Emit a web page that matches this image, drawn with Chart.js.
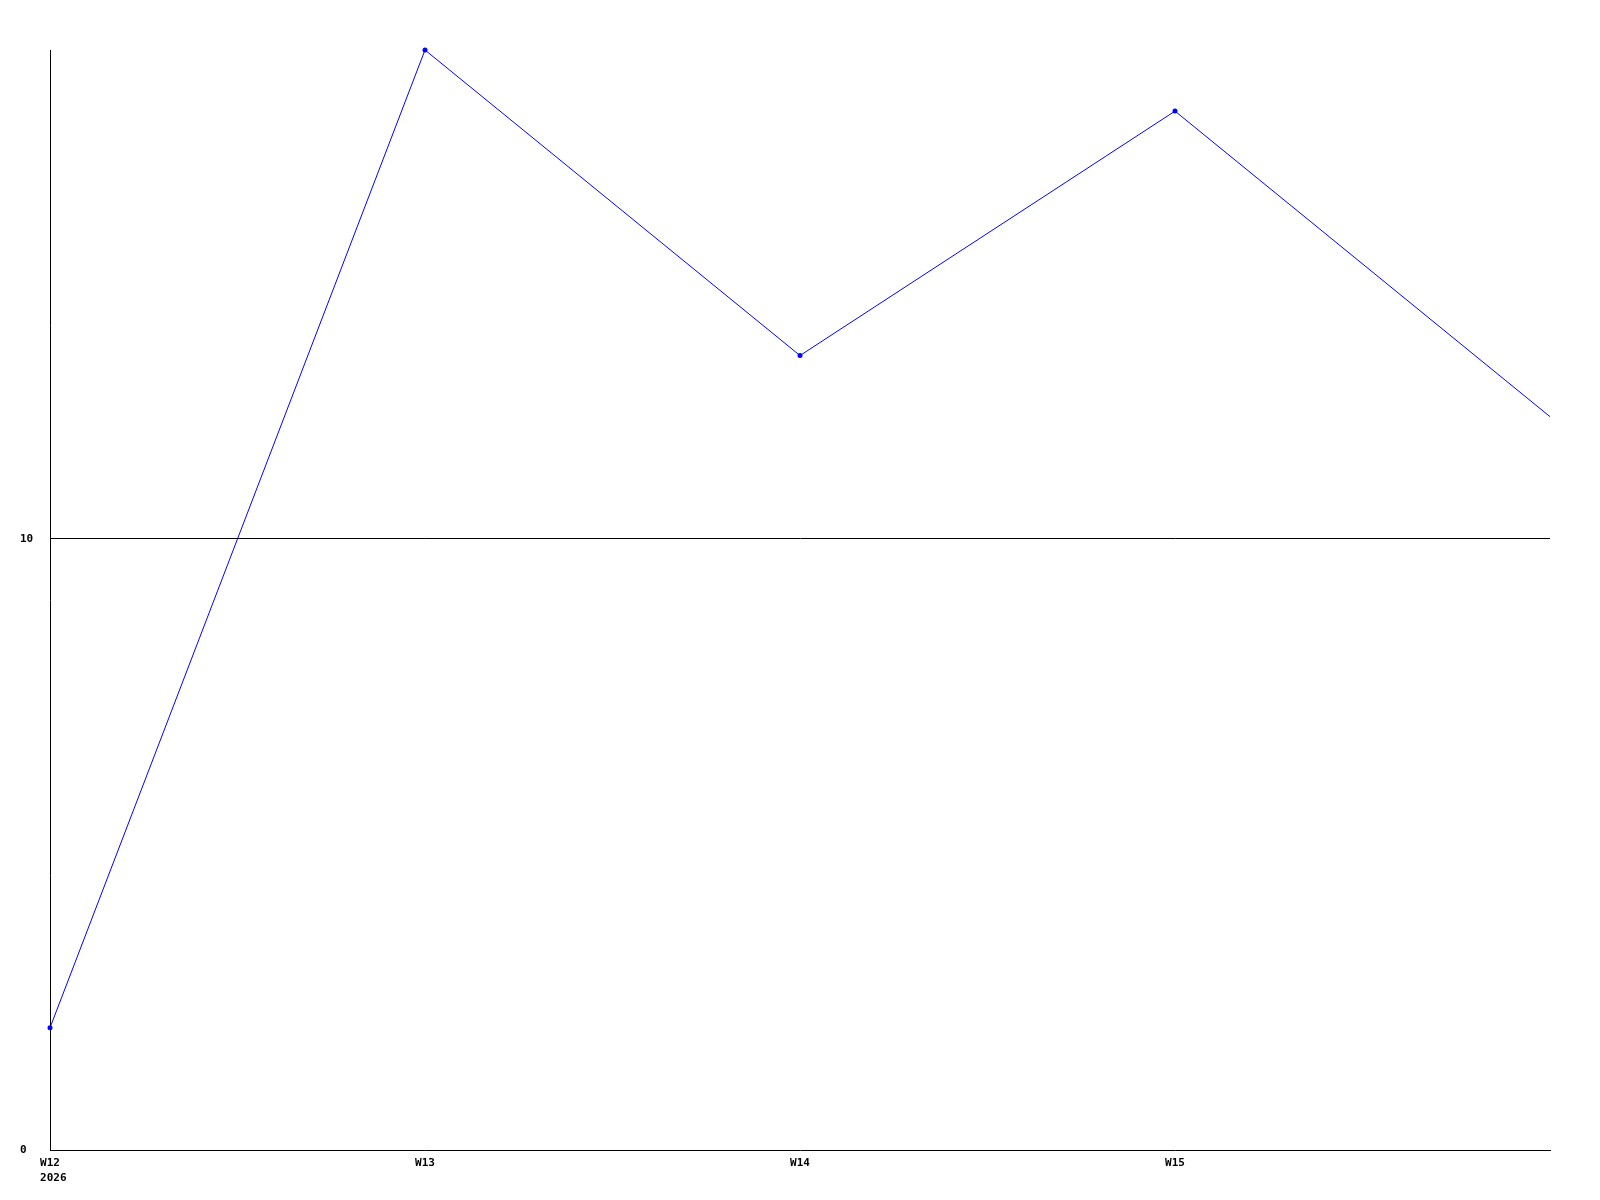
<!DOCTYPE html>
<html>
<head>
<meta charset="utf-8">
<script src="https://cdn.jsdelivr.net/npm/chart.js@4/dist/chart.umd.min.js"></script>
<style>
  html, body { margin: 0; padding: 0; background: #fff; }
  canvas { display: block; }
</style>
</head>
<body>
<canvas id="chart" width="1600" height="1200"></canvas>
<script>
const weeks = ["W12", "W13", "W14", "W15", "W16"];
const year = "2026";
const counts = [2, 18, 13, 17, 12];
const yTicks = [0, 10];

const color = "#0000ff";
const font = { family: "'DejaVu Sans Mono', monospace", size: 11, weight: "bold", lineHeight: 1.4 };

const ctx = document.getElementById("chart").getContext("2d");

new Chart(ctx, {
  type: "line",
  data: {
    labels: weeks,
    datasets: [
      {
        label: "",
        data: counts,
        borderColor: color,
        backgroundColor: color,
        borderWidth: 1,
        // last point sits on the chart edge and shows no marker
        pointRadius: (c) => (c.dataIndex === weeks.length - 1 ? 0 : 2.5),
        pointBorderWidth: 0,
        tension: 0,
        clip: false,
      },
    ],
  },
  options: {
    responsive: false,
    animation: false,
    layout: {
      padding: { top: 50, left: 20, right: 50, bottom: 0 },
    },
    plugins: {
      legend: { display: false },
      tooltip: { enabled: false },
    },
    scales: {
      x: {
        offset: false,
        border: { display: true, color: "#000", width: 1 },
        grid: { display: false },
        ticks: {
          color: "#000",
          font,
          autoSkip: false,
          maxRotation: 0,
          padding: -3,
          callback: (value, index) => {
            if (index === 0) return [weeks[index], " " + year];
            if (index === weeks.length - 1) return "";
            return weeks[index];
          },
        },
        afterFit: (scale) => {
          scale.height = 50;
        },
      },
      y: {
        min: 0,
        max: 18,
        border: { display: true, color: "#000", width: 1 },
        grid: {
          drawTicks: false,
          color: (c) => (c.tick && c.tick.value === 10 ? "#000" : "rgba(0,0,0,0)"),
          lineWidth: 1,
        },
        afterBuildTicks: (scale) => {
          scale.ticks = yTicks.map((v) => ({ value: v }));
        },
        ticks: {
          color: "#000",
          font: { ...font, lineHeight: 1.2 },
          crossAlign: "far",
          padding: 0,
        },
        afterFit: (scale) => {
          scale.width = 30;
        },
      },
    },
  },
});
</script>
</body>
</html>
